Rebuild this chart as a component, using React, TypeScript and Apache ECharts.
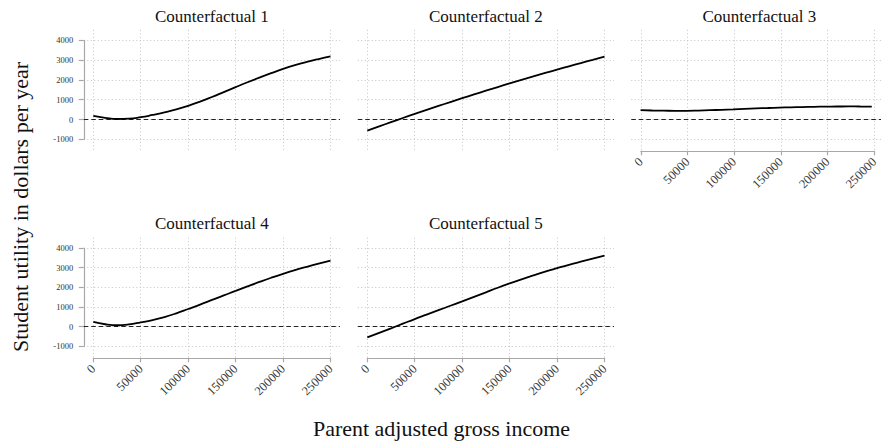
import React, { useEffect, useRef } from "react";
import * as echarts from "echarts";

// Parent adjusted gross income sample points (dollars)
const INCOME = [
  0, 12500, 25000, 37500, 50000, 62500, 75000, 87500, 100000, 112500, 125000,
  137500, 150000, 162500, 175000, 187500, 200000, 212500, 225000, 237500, 250000,
];

// Student utility (dollars per year) under each counterfactual
const CF1 = [180, 85, 25, 40, 115, 230, 360, 510, 690, 900, 1135, 1385, 1635, 1880, 2115, 2340, 2555, 2745, 2910, 3055, 3185];
const CF2 = [-560, -345, -133, 76, 282, 485, 685, 882, 1076, 1267, 1455, 1640, 1822, 2001, 2177, 2350, 2520, 2687, 2851, 3012, 3180];
const CF3 = [470, 455, 445, 438, 440, 452, 470, 490, 510, 535, 560, 580, 600, 615, 630, 642, 650, 656, 660, 658, 655];
const CF4 = [240, 125, 75, 115, 220, 340, 490, 680, 900, 1125, 1360, 1595, 1820, 2050, 2275, 2490, 2690, 2875, 3045, 3205, 3355];
const CF5 = [-540, -310, -80, 155, 390, 615, 840, 1065, 1290, 1520, 1750, 1980, 2200, 2410, 2610, 2800, 2975, 3145, 3305, 3460, 3610];

const PANEL_TITLES = ["Counterfactual 1", "Counterfactual 2", "Counterfactual 3", "Counterfactual 4", "Counterfactual 5"];
const PANEL_SERIES = [CF1, CF2, CF3, CF4, CF5];

const Y_TICK_MIN = -1000;
const Y_TICK_MAX = 4000;
const Y_TICK_STEP = 1000;
const X_TICK_MIN = 0;
const X_TICK_MAX = 250000;
const X_TICK_STEP = 50000;

const Y_TITLE = "Student utility in dollars per year";
const X_TITLE = "Parent adjusted gross income";

// Panel domain (padded around the tick range)
const X_DOMAIN: [number, number] = [-10000, 260000];
const Y_DOMAIN: [number, number] = [-1580, 4530];

const SERIF = "Liberation Serif, Times New Roman, serif";

// Layout of the facet grid
const COL_ZERO_PX = [93.3, 367.3, 640.8]; // pixel position of income 0 in each column
const X_SPAN_PX = 237.2; // pixels from 0 to 250000
const ROWS = [
  { top: 29.8, height: 121 },
  { top: 237.6, height: 120.2 },
];
const PANEL_POS = [
  { col: 0, row: 0 },
  { col: 1, row: 0 },
  { col: 2, row: 0 },
  { col: 0, row: 1 },
  { col: 1, row: 1 },
];

const AXIS_GRAY = "#a8a8a8";
const GRID_GRAY = "#c4c4c4";
const LABEL_COLOR = "#333333";

function buildOption() {
  const pxPerX = X_SPAN_PX / (X_TICK_MAX - X_TICK_MIN);
  const grids: any[] = [];
  const xAxes: any[] = [];
  const yAxes: any[] = [];
  const series: any[] = [];
  const graphics: any[] = [];

  PANEL_POS.forEach((pos, p) => {
    const row = ROWS[pos.row];
    const left = COL_ZERO_PX[pos.col] + (X_DOMAIN[0] - X_TICK_MIN) * pxPerX;
    const width = (X_DOMAIN[1] - X_DOMAIN[0]) * pxPerX;
    const pxPerY = row.height / (Y_DOMAIN[1] - Y_DOMAIN[0]);
    const yTop = row.top + (Y_DOMAIN[1] - Y_TICK_MAX) * pxPerY;
    const yHeight = (Y_TICK_MAX - Y_TICK_MIN) * pxPerY;
    const showX = pos.row === 1 || p === 2;
    const showY = pos.col === 0;
    const base = grids.length;

    // main plotting panel
    grids.push({ left, top: row.top, width, height: row.height });
    xAxes.push({ gridIndex: base, type: "value", min: X_DOMAIN[0], max: X_DOMAIN[1], show: false });
    yAxes.push({ gridIndex: base, type: "value", min: Y_DOMAIN[0], max: Y_DOMAIN[1], show: false });

    // vertical guides and income axis, spanning exactly the tick range
    grids.push({ left: COL_ZERO_PX[pos.col], top: row.top, width: X_SPAN_PX, height: row.height });
    xAxes.push({
      gridIndex: base + 1,
      type: "value",
      min: X_TICK_MIN,
      max: X_TICK_MAX,
      interval: X_TICK_STEP,
      axisLine: { show: showX, lineStyle: { color: AXIS_GRAY, width: 1.2 } },
      axisTick: { show: showX, length: 4.5, lineStyle: { color: AXIS_GRAY, width: 1.2 } },
      axisLabel: {
        show: showX,
        rotate: 45,
        margin: 9,
        fontFamily: SERIF,
        fontSize: 12.5,
        color: LABEL_COLOR,
        formatter: (v: number) => String(v),
      },
      splitLine: { show: true, lineStyle: { color: GRID_GRAY, type: [1, 2.5], width: 1 } },
    });
    yAxes.push({ gridIndex: base + 1, type: "value", min: 0, max: 1, show: false });

    // horizontal guides and utility axis, spanning exactly the tick range
    grids.push({ left, top: yTop, width, height: yHeight });
    xAxes.push({ gridIndex: base + 2, type: "value", min: 0, max: 1, show: false });
    yAxes.push({
      gridIndex: base + 2,
      type: "value",
      min: Y_TICK_MIN,
      max: Y_TICK_MAX,
      interval: Y_TICK_STEP,
      offset: 1.6,
      axisLine: { show: showY, lineStyle: { color: AXIS_GRAY, width: 1.2 } },
      axisTick: { show: showY, length: 5, lineStyle: { color: AXIS_GRAY, width: 1.2 } },
      axisLabel: {
        show: showY,
        margin: 9,
        fontFamily: SERIF,
        fontSize: 8.5,
        color: LABEL_COLOR,
        formatter: (v: number) => String(v),
      },
      splitLine: { show: true, lineStyle: { color: GRID_GRAY, type: [1, 2.5], width: 1 } },
    });

    const values = PANEL_SERIES[p];
    series.push({
      type: "line",
      name: PANEL_TITLES[p],
      xAxisIndex: base,
      yAxisIndex: base,
      data: INCOME.map((x, i) => [x, values[i]]),
      smooth: true,
      showSymbol: false,
      symbol: "none",
      lineStyle: { color: "#000", width: 1.8 },
      z: 5,
      markLine: {
        silent: true,
        symbol: ["none", "none"],
        label: { show: false },
        lineStyle: { color: "#222", type: [4.5, 3], width: 1.1 },
        data: [{ yAxis: 0 }],
      },
    });

    graphics.push({
      type: "text",
      x: left + width / 2,
      y: row.top - 13.8,
      style: {
        text: PANEL_TITLES[p],
        fontFamily: SERIF,
        fontSize: 17,
        fill: "#111",
        textAlign: "center",
        textVerticalAlign: "middle",
      },
    });
  });

  graphics.push({
    type: "text",
    x: 20,
    y: 207,
    rotation: Math.PI / 2,
    style: {
      text: Y_TITLE,
      fontFamily: SERIF,
      fontSize: 22,
      fill: "#111",
      textAlign: "center",
      textVerticalAlign: "middle",
    },
  });
  graphics.push({
    type: "text",
    x: 441.5,
    y: 428,
    style: {
      text: X_TITLE,
      fontFamily: SERIF,
      fontSize: 22,
      fill: "#111",
      textAlign: "center",
      textVerticalAlign: "middle",
    },
  });

  return {
    animation: false,
    backgroundColor: "#fff",
    textStyle: { fontFamily: SERIF, color: LABEL_COLOR },
    grid: grids,
    xAxis: xAxes,
    yAxis: yAxes,
    series,
    graphic: graphics,
  };
}

export default function App() {
  const ref = useRef<HTMLDivElement>(null);
  useEffect(() => {
    if (!ref.current) return;
    const chart = echarts.init(ref.current, undefined, { renderer: "svg" });
    chart.setOption(buildOption() as any);
    return () => chart.dispose();
  }, []);
  return (
    <div
      ref={ref}
      style={{ position: "fixed", left: 0, top: 0, width: 881, height: 442, background: "#fff" }}
    />
  );
}
